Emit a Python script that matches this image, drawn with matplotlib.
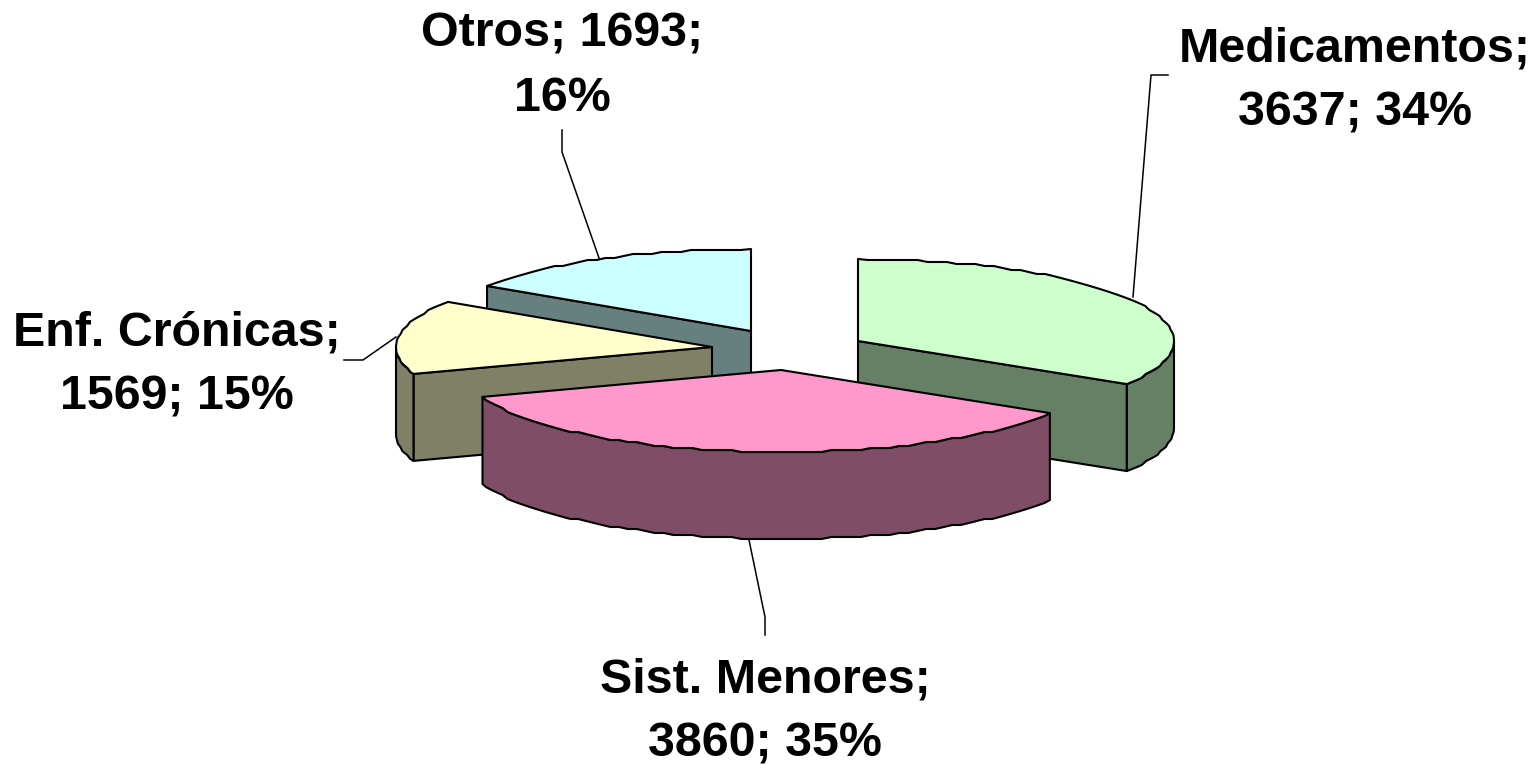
import numpy as np
import matplotlib
matplotlib.use("Agg")
import matplotlib.pyplot as plt
from matplotlib.patches import Polygon

categories = ["Medicamentos", "Sist. Menores", "Enf. Crónicas", "Otros"]
values = [3637, 3860, 1569, 1693]
percents = [34, 35, 15, 16]
top_colors = ["#CCFFCC", "#FF99CC", "#FFFFCC", "#CCFFFF"]
side_colors = ["#668066", "#804D66", "#808066", "#668080"]

# layout (pixel space of the figure)
W, H = 1538, 765
RX, RY, DEPTH = 316, 82, 87
centers = [(858, 341), (781, 370), (712, 347), (751, 331)]
draw_order = [3, 2, 0, 1]
label_pos = [(1355, 81), (765, 712), (177, 365), (562, 66)]
label_breaks = [("{n};", "{v}; {p}%"), ("{n};", "{v}; {p}%"), ("{n};", "{v}; {p}%"), ("{n}; {v};", "{p}%")]
leaders = [[(1168, 75), (1151, 75), (1133, 297)],
           [(765, 635), (765, 617), (749, 540)],
           [(344, 360), (363, 360), (396, 337)],
           [(562, 130), (562, 152), (599, 258)]]

plt.rcParams["font.family"] = ["Liberation Sans", "DejaVu Sans"]
fig = plt.figure(figsize=(W / 100, H / 100), dpi=100)
ax = fig.add_axes([0, 0, 1, 1])
ax.set_xlim(0, W)
ax.set_ylim(H, 0)
ax.axis("off")

LW = 1.5


def rim(cx, cy, a0, a1):
    """Rim from angle a0 to a1 (degrees, clockwise decreasing), slightly stepped like the source."""
    n = max(2, int(abs(a1 - a0) / 1.8))
    t = np.radians(np.linspace(a0, a1, n + 1))
    x = cx + RX * np.cos(t)
    y = cy - RY * np.sin(t)
    y[1:-1] = np.round(y[1:-1] / 2) * 2
    return np.column_stack([x, y])


def poly(pts, color, z):
    ax.add_patch(Polygon(pts, closed=True, facecolor=color, edgecolor="black",
                         linewidth=LW, joinstyle="round", zorder=z))


total = sum(values)
edges = 90 - np.cumsum([0] + values) / total * 360
down = np.array([0, DEPTH])

for z, i in enumerate(draw_order):
    cx, cy = centers[i]
    a0, a1 = edges[i], edges[i + 1]
    apex = np.array([cx, cy], float)
    r = rim(cx, cy, a0, a1)
    base = z * 10 + 1
    # cut faces: visible only where the top surface lies above the edge
    if np.cos(np.radians(a0)) < -1e-6:
        poly([apex, r[0], r[0] + down, apex + down], side_colors[i], base)
    if np.cos(np.radians(a1)) > 1e-6:
        poly([apex, r[-1], r[-1] + down, apex + down], side_colors[i], base)
    # outer wall: only the part in front (sin < 0)
    for k in (-1, 0):
        s = max(a1, -180 + 360 * k)
        e = min(a0, 0 + 360 * k)
        if e > s:
            w = rim(cx, cy, e, s)
            poly(np.vstack([w, (w + down)[::-1]]), side_colors[i], base + 1)
    poly(np.vstack([apex, r]), top_colors[i], base + 2)

for seg in leaders:
    xs, ys = zip(*seg)
    ax.plot(xs, ys, color="black", lw=1.1, zorder=60)

for n, v, p, (lx, ly), br in zip(categories, values, percents, label_pos, label_breaks):
    txt = "\n".join(b.format(n=n, v=v, p=p) for b in br)
    ax.text(lx, ly, txt, ha="center", va="center", fontsize=34.8, fontweight="bold",
            color="black", linespacing=1.56, zorder=70)

fig.savefig("out.png", dpi=100)
